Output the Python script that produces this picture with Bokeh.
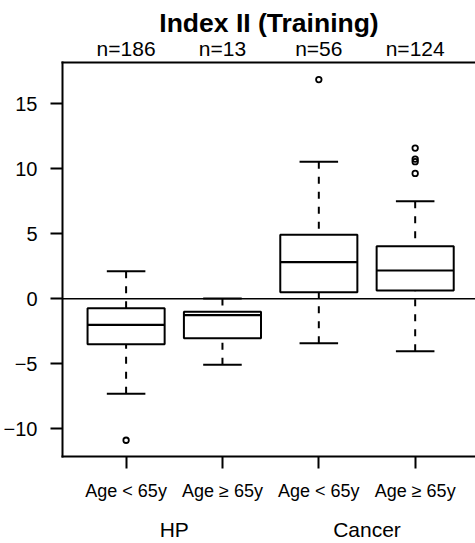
from bokeh.plotting import figure
from bokeh.models import Range1d, FixedTicker, LinearAxis, Span, ColumnDataSource
from bokeh.embed import file_html
from bokeh.resources import INLINE

# ---- data ----
positions = [1, 2, 3, 4]
age_labels = ["Age < 65y", "Age \u2265 65y", "Age < 65y", "Age \u2265 65y"]
group_positions = [1.5, 3.5]
group_labels = ["HP", "Cancer"]
n_labels = ["n=186", "n=13", "n=56", "n=124"]
upper = [2.12, 0.03, 10.54, 7.51]
q3 = [-0.72, -1.00, 4.92, 4.05]
median = [-2.00, -1.25, 2.82, 2.18]
q1 = [-3.49, -3.03, 0.51, 0.64]
lower = [-7.31, -5.07, -3.42, -4.03]
outlier_x = [1, 3, 4, 4, 4, 4]
outlier_y = [-10.88, 16.87, 11.60, 10.75, 10.55, 9.65]
y_ticks = [-10, -5, 0, 5, 10, 15]
y_tick_labels = ["\u221210", "\u22125", "0", "5", "10", "15"]

FONT = "Liberation Sans"
BOX_W = 0.8
CAP_W = 0.4

src = ColumnDataSource(dict(
    x=positions, upper=upper, q3=q3, med=median, q1=q1, lower=lower,
    bl=[x - BOX_W / 2 for x in positions], br=[x + BOX_W / 2 for x in positions],
    cl=[x - CAP_W / 2 for x in positions], cr=[x + CAP_W / 2 for x in positions],
))

p = figure(width=475, height=543, output_backend="svg", toolbar_location=None,
           x_range=Range1d(0.34, 4.626), y_range=Range1d(-12.13, 18.18),
           x_axis_location=None, y_axis_location=None,
           title="Index II (Training)",
           min_border_left=60, min_border_right=0, min_border_top=62, min_border_bottom=87)
p.outline_line_color = None
p.xgrid.visible = False
p.ygrid.visible = False
p.background_fill_color = "white"
p.border_fill_color = "white"

p.title.text_font = FONT
p.title.text_font_size = "26.5px"
p.title.text_font_style = "bold"
p.title.align = "center"
p.title.standoff = -8
p.title.text_color = "black"

def style_axis(ax, size):
    ax.axis_line_width = 2
    ax.axis_line_color = "black"
    ax.axis_line_cap = "square"
    ax.major_tick_line_width = 2
    ax.major_tick_line_color = "black"
    ax.major_tick_in = 0
    ax.minor_tick_line_color = None
    ax.major_label_text_font = FONT
    ax.major_label_text_font_size = size
    ax.major_label_text_color = "black"

yaxis = LinearAxis(ticker=FixedTicker(ticks=y_ticks),
                   major_label_overrides=dict(zip(y_ticks, y_tick_labels)))
style_axis(yaxis, "20px")
yaxis.major_tick_out = 12
yaxis.major_label_standoff = 13
p.add_layout(yaxis, "left")

xaxis = LinearAxis(ticker=FixedTicker(ticks=positions),
                   major_label_overrides=dict(zip(positions, age_labels)))
style_axis(xaxis, "18px")
xaxis.major_tick_out = 12
xaxis.major_label_standoff = 12
p.add_layout(xaxis, "below")

gaxis = LinearAxis(ticker=FixedTicker(ticks=group_positions),
                   major_label_overrides=dict(zip(group_positions, group_labels)))
style_axis(gaxis, "21px")
gaxis.axis_line_color = None
gaxis.major_tick_line_color = None
gaxis.major_tick_out = 0
gaxis.major_label_standoff = 14
gaxis.major_label_text_line_height = 1.0
p.add_layout(gaxis, "below")

taxis = LinearAxis(ticker=FixedTicker(ticks=positions),
                   major_label_overrides=dict(zip(positions, n_labels)))
style_axis(taxis, "21px")
taxis.major_tick_line_color = None
taxis.major_tick_out = 0
taxis.major_label_standoff = 3
p.add_layout(taxis, "above")

p.add_layout(Span(location=0, dimension="width", line_color="black", line_width=1.5))

# whiskers (dashed), drawn from whisker end toward box
p.segment(x0="x", y0="upper", x1="x", y1="q3", source=src,
          line_color="black", line_width=2, line_dash="7 8")
p.segment(x0="x", y0="lower", x1="x", y1="q1", source=src,
          line_color="black", line_width=2, line_dash="7 8")
# caps
p.segment(x0="cl", y0="upper", x1="cr", y1="upper", source=src, line_color="black", line_width=2)
p.segment(x0="cl", y0="lower", x1="cr", y1="lower", source=src, line_color="black", line_width=2)
# boxes
p.quad(left="bl", right="br", top="q3", bottom="q1", source=src,
       fill_color="white", line_color="black", line_width=2)
# medians
p.segment(x0="bl", y0="med", x1="br", y1="med", source=src, line_color="black", line_width=2.2)
# outliers
p.scatter(x=outlier_x, y=outlier_y, marker="circle", size=5.5,
          fill_color=None, line_color="black", line_width=1.8)

open("out.html", "w").write(file_html(p, INLINE))
